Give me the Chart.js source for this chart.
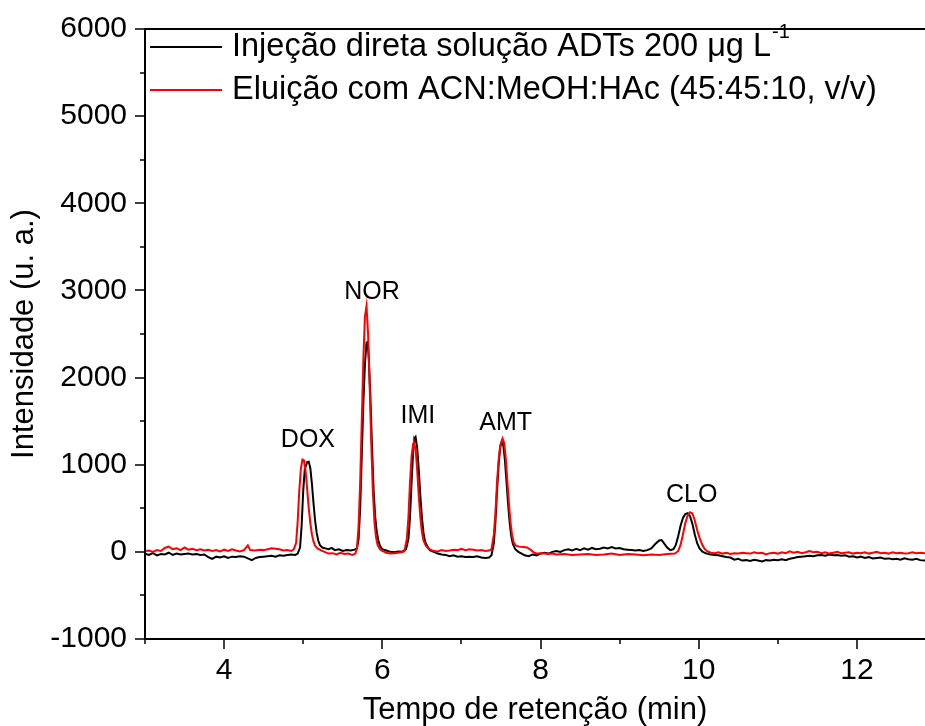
<!DOCTYPE html>
<html><head><meta charset="utf-8">
<script src="https://cdn.jsdelivr.net/npm/chart.js@4/dist/chart.umd.min.js"></script>
<style>html,body{margin:0;padding:0;background:#fff;overflow:hidden}#wrap{width:925px;height:726px;position:relative}</style>
</head><body><div id="wrap"><canvas id="c" width="925" height="726"></canvas></div>
<script>
// ---------- data ----------
const seriesLabels = ['Injeção direta solução ADTs 200 μg L', 'Eluição com ACN:MeOH:HAc (45:45:10, v/v)'];
const seriesLabelSup = ['-1', ''];
const seriesColors = ['#000000', '#ff0000'];

const blackTime = [3.00,3.05,3.10,3.15,3.20,3.25,3.30,3.35,3.40,3.45,3.50,3.55,3.60,3.65,3.70,3.75,3.80,3.85,3.90,3.95,4.00,4.05,4.10,4.15,4.20,4.25,4.30,4.35,4.40,4.45,4.50,4.55,4.60,4.65,4.70,4.75,4.80,4.85,4.90,4.93,4.96,4.98,5.00,5.02,5.05,5.07,5.09,5.11,5.13,5.15,5.17,5.19,5.21,5.24,5.28,5.32,5.36,5.40,5.45,5.50,5.55,5.60,5.65,5.68,5.70,5.72,5.74,5.76,5.78,5.80,5.815,5.83,5.85,5.87,5.89,5.91,5.93,5.95,5.97,6.00,6.05,6.10,6.15,6.20,6.25,6.30,6.33,6.35,6.37,6.39,6.41,6.42,6.44,6.46,6.48,6.50,6.52,6.54,6.57,6.60,6.65,6.70,6.75,6.80,6.85,6.90,6.95,7.00,7.05,7.10,7.15,7.20,7.25,7.30,7.35,7.38,7.41,7.43,7.45,7.47,7.49,7.51,7.53,7.55,7.57,7.59,7.61,7.63,7.65,7.68,7.72,7.76,7.80,7.85,7.90,7.95,8.00,8.05,8.10,8.15,8.20,8.25,8.30,8.35,8.40,8.45,8.50,8.55,8.60,8.65,8.70,8.75,8.80,8.85,8.90,8.95,9.00,9.05,9.10,9.15,9.20,9.25,9.30,9.35,9.40,9.45,9.50,9.53,9.56,9.60,9.64,9.68,9.71,9.74,9.77,9.80,9.83,9.86,9.89,9.92,9.95,9.98,10.01,10.05,10.10,10.15,10.20,10.25,10.30,10.35,10.40,10.45,10.50,10.55,10.60,10.65,10.70,10.75,10.80,10.85,10.90,10.95,11.00,11.05,11.10,11.15,11.20,11.25,11.30,11.35,11.40,11.45,11.50,11.55,11.60,11.65,11.70,11.75,11.80,11.85,11.90,11.95,12.00,12.05,12.10,12.15,12.20,12.25,12.30,12.35,12.40,12.45,12.50,12.55,12.60,12.65,12.70,12.75,12.80,12.86];
const blackIntensity = [-20,-35,-15,-40,-25,-30,-10,-35,-20,-30,-25,-20,-30,-25,-35,-30,-60,-80,-55,-65,-50,-70,-55,-60,-50,-55,-75,-95,-70,-60,-55,-50,-45,-55,-40,-45,-35,-30,-35,-20,50,300,700,950,1030,1035,960,780,560,360,220,130,80,50,40,30,45,20,30,10,20,15,25,40,150,500,1100,1700,2150,2400,2410,2200,1750,1200,700,400,230,130,70,30,15,0,-5,5,0,30,150,400,800,1150,1310,1320,1200,950,650,400,220,120,60,20,0,-20,-30,-35,-50,-40,-55,-50,-60,-55,-60,-50,-65,-70,-65,-40,100,350,700,1000,1200,1265,1220,1050,800,550,330,180,90,30,0,-20,-40,-50,-30,-40,-20,-10,-20,0,10,0,20,30,15,35,20,40,25,45,30,35,50,40,55,40,45,30,25,20,15,20,10,20,40,90,130,135,100,50,20,30,80,180,300,390,435,445,410,320,200,100,40,0,-20,-30,-35,-40,-50,-60,-65,-90,-80,-100,-95,-105,-90,-100,-110,-95,-100,-90,-95,-85,-95,-80,-70,-60,-55,-50,-45,-50,-40,-35,-45,-30,-40,-35,-45,-40,-55,-50,-65,-55,-70,-60,-75,-70,-65,-80,-75,-85,-80,-90,-75,-85,-90,-80,-95,-100];

const redTime = [3.00,3.05,3.10,3.15,3.20,3.25,3.30,3.35,3.40,3.45,3.50,3.55,3.60,3.65,3.70,3.75,3.80,3.85,3.90,3.95,4.00,4.05,4.10,4.15,4.20,4.25,4.30,4.33,4.40,4.45,4.50,4.55,4.60,4.65,4.70,4.75,4.80,4.85,4.88,4.91,4.93,4.95,4.97,4.99,5.01,5.03,5.05,5.07,5.09,5.11,5.13,5.15,5.18,5.22,5.27,5.32,5.37,5.42,5.47,5.52,5.57,5.62,5.66,5.68,5.70,5.72,5.74,5.76,5.78,5.80,5.82,5.84,5.86,5.88,5.90,5.92,5.94,5.97,6.00,6.05,6.10,6.15,6.20,6.25,6.28,6.31,6.33,6.35,6.37,6.39,6.40,6.42,6.44,6.46,6.48,6.50,6.52,6.55,6.58,6.62,6.66,6.70,6.75,6.80,6.85,6.90,6.95,7.00,7.05,7.10,7.15,7.20,7.25,7.30,7.35,7.38,7.41,7.43,7.45,7.47,7.49,7.52,7.54,7.56,7.58,7.60,7.62,7.64,7.66,7.69,7.73,7.78,7.83,7.88,7.92,7.96,8.00,8.05,8.10,8.15,8.20,8.30,8.40,8.50,8.60,8.70,8.80,8.90,9.00,9.10,9.20,9.30,9.40,9.50,9.60,9.70,9.74,9.77,9.80,9.83,9.86,9.89,9.92,9.95,9.98,10.01,10.04,10.07,10.10,10.15,10.20,10.25,10.30,10.35,10.40,10.45,10.50,10.55,10.60,10.65,10.70,10.75,10.80,10.85,10.90,10.95,11.00,11.05,11.10,11.15,11.20,11.25,11.30,11.35,11.40,11.45,11.50,11.55,11.60,11.65,11.70,11.75,11.80,11.85,11.90,11.95,12.00,12.05,12.10,12.15,12.20,12.25,12.30,12.35,12.40,12.45,12.50,12.55,12.60,12.65,12.70,12.75,12.80,12.86];
const redIntensity = [10,15,0,20,10,45,60,30,40,20,50,25,35,20,30,15,25,10,20,5,25,10,30,15,5,20,75,20,15,25,20,30,40,35,30,15,20,10,30,100,350,700,950,1060,1050,930,720,500,330,200,120,70,40,20,0,-20,-15,-30,-10,-25,-20,-35,-20,50,300,800,1500,2200,2700,2820,2500,1900,1250,700,350,170,80,30,10,-10,-20,-15,-10,-5,10,150,400,800,1100,1240,1255,1180,950,650,400,230,130,70,40,20,10,5,20,10,15,25,20,35,20,30,25,15,20,10,15,30,200,450,800,1050,1220,1300,1250,1080,820,560,340,190,110,70,60,55,50,20,-10,-20,-15,-20,-25,-20,-30,-25,-35,-30,-25,-35,-30,-20,-35,-25,-30,-40,-30,-35,-25,-20,10,80,200,330,420,455,440,360,250,160,90,40,10,-10,-15,-5,-20,-10,-25,-15,-20,-10,-15,-20,-5,-15,-10,-30,-15,-10,-20,-5,-15,5,-10,0,-15,-5,10,-5,0,-15,-5,-20,-10,0,-15,-10,-5,-20,-10,-15,-5,-20,-10,0,-15,-10,-20,-5,-15,-10,-20,-15,-5,-15,-10,-15];

const yTickValues = [-1000,0,1000,2000,3000,4000,5000,6000];
const yMinorValues = [-500,500,1500,2500,3500,4500,5500];
const xTickValues = [4,6,8,10,12];
const xMinorValues = [3,5,7,9,11];

const peakNames = ['DOX','NOR','IMI','AMT','CLO'];
const peakLabelTimes = [5.06,5.87,6.45,7.56,9.91];
const peakLabelIntensity = [1205,2905,1480,1400,575];

const xTitle = 'Tempo de retenção (min)';
const yTitle = 'Intensidade (u. a.)';

// ---------- chart ----------
const FONT = '"Liberation Sans", Arial, sans-serif';
const toXY = (t, v) => t.map((x, i) => ({x: x, y: v[i]}));

const axesPlugin = {
  id: 'axesFrame',
  afterDatasetsDraw(chart) {
    const {ctx, chartArea: a, scales: {x, y}} = chart;
    ctx.save();
    ctx.strokeStyle = '#000';
    ctx.lineWidth = 2;
    ctx.beginPath();
    ctx.moveTo(a.left, a.top); ctx.lineTo(a.left, a.bottom);
    ctx.moveTo(a.left - 1, a.bottom); ctx.lineTo(a.right + 2, a.bottom);
    ctx.moveTo(a.left - 1, a.top); ctx.lineTo(a.right + 2, a.top);
    ctx.stroke();
    ctx.lineWidth = 1.5;
    ctx.beginPath();
    yTickValues.forEach(v => { const p = Math.round(y.getPixelForValue(v)); ctx.moveTo(a.left - 10, p); ctx.lineTo(a.left, p); });
    yMinorValues.forEach(v => { const p = Math.round(y.getPixelForValue(v)); ctx.moveTo(a.left - 5, p); ctx.lineTo(a.left, p); });
    xTickValues.forEach(v => { const p = Math.round(x.getPixelForValue(v)); ctx.moveTo(p, a.bottom); ctx.lineTo(p, a.bottom + 10); });
    xMinorValues.forEach(v => { const p = Math.round(x.getPixelForValue(v)); ctx.moveTo(p, a.bottom); ctx.lineTo(p, a.bottom + 5); });
    ctx.stroke();

    // peak labels
    ctx.fillStyle = '#000';
    ctx.font = '25px ' + FONT;
    ctx.textAlign = 'center';
    ctx.textBaseline = 'alphabetic';
    peakNames.forEach((n, i) => {
      ctx.fillText(n, x.getPixelForValue(peakLabelTimes[i]), y.getPixelForValue(peakLabelIntensity[i]));
    });

    // legend
    ctx.textAlign = 'left';
    ctx.textBaseline = 'middle';
    const rowY = [47, 90];
    seriesLabels.forEach((lab, i) => {
      const yy = rowY[i];
      ctx.strokeStyle = seriesColors[i];
      ctx.lineWidth = 2;
      ctx.beginPath(); ctx.moveTo(150, yy); ctx.lineTo(222, yy); ctx.stroke();
      ctx.fillStyle = '#000';
      ctx.font = '32.5px ' + FONT;
      ctx.fillText(lab, 232, yy);
      if (seriesLabelSup[i]) {
        const w = ctx.measureText(lab).width;
        ctx.font = '20px ' + FONT;
        ctx.fillText(seriesLabelSup[i], 232 + w + 1, yy - 15);
      }
    });
    ctx.restore();
  }
};

new Chart(document.getElementById('c'), {
  type: 'line',
  data: {
    datasets: [
      {label: seriesLabels[0], data: toXY(blackTime, blackIntensity), borderColor: seriesColors[0], borderWidth: 2, pointRadius: 0, order: 1},
      {label: seriesLabels[1], data: toXY(redTime, redIntensity), borderColor: seriesColors[1], borderWidth: 2, pointRadius: 0, order: 0}
    ]
  },
  options: {
    responsive: false,
    animation: false,
    devicePixelRatio: 1,
    layout: {padding: {top: 29, right: 0, left: 0, bottom: 0}},
    plugins: {legend: {display: false}, tooltip: {enabled: false}},
    scales: {
      x: {
        type: 'linear', min: 3, max: 12.86,
        afterBuildTicks: s => { s.ticks = xTickValues.map(v => ({value: v})); },
        afterFit: s => { s.height = 87; s.paddingLeft = 0; s.paddingRight = 0; },
        grid: {display: false, drawTicks: false},
        border: {display: false},
        ticks: {font: {family: FONT, size: 30}, color: '#000', padding: 14, maxRotation: 0, autoSkip: false, callback: v => String(v)},
        title: {display: true, text: xTitle, font: {family: FONT, size: 31, lineHeight: 1}, color: '#000', padding: {top: 0, bottom: 0}}
      },
      y: {
        type: 'linear', min: -1000, max: 6000,
        afterBuildTicks: s => { s.ticks = yTickValues.map(v => ({value: v})); },
        afterFit: s => { s.width = 145; s.paddingTop = 0; s.paddingBottom = 0; },
        grid: {display: false, drawTicks: false},
        border: {display: false},
        ticks: {font: {family: FONT, size: 30}, color: '#000', padding: 18, autoSkip: false, callback: v => String(v)},
        title: {display: true, text: yTitle, font: {family: FONT, size: 31}, color: '#000', padding: {top: 6, bottom: 0}}
      }
    }
  },
  plugins: [axesPlugin]
});
</script>
</body></html>
